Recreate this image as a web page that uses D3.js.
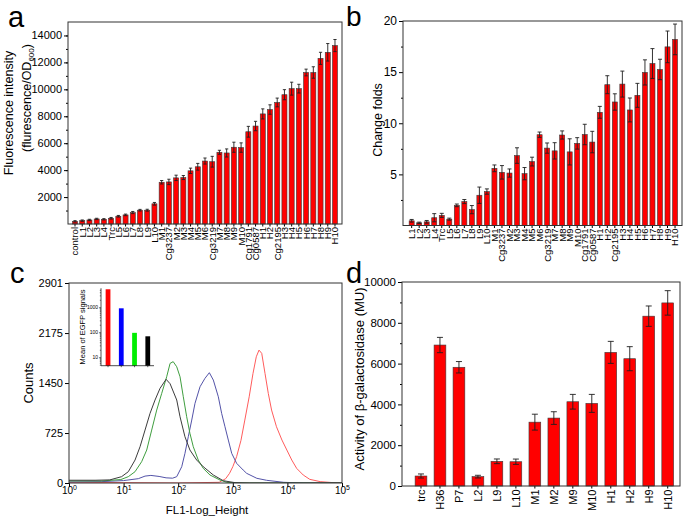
<!DOCTYPE html>
<html>
<head>
<meta charset="utf-8">
<script src="https://cdn.jsdelivr.net/npm/d3@7/dist/d3.min.js"></script>
<style>
  body { margin: 0; background: #fff; }
  svg { font-family: Arial, "Liberation Sans", sans-serif; }
</style>
</head>
<body>
<div id="chart"></div>
<script>
// ---- panel a : fluorescence intensity ----
const catsA = ["control", "L1", "L2", "L3", "L4", "Trc", "L5", "L6", "L7", "L8", "L9", "L10",
  "M1", "Cg3237", "M2", "M3", "M4", "M5", "M6", "Cg3219", "M7", "M8", "M9", "M10",
  "Cg1791", "Cg0587", "H1", "H2", "Cg2195", "H3", "H4", "H5", "H6", "H7", "H8", "H9", "H10"];
const valsA = [200, 250, 300, 375, 350, 425, 575, 675, 850, 1025, 1025, 1500,
  3100, 3125, 3425, 3450, 3950, 4250, 4675, 4625, 5325, 5275, 5700, 5675,
  6850, 7275, 8175, 8500, 9025, 9600, 10050, 10050, 11250, 11250, 12300, 12750, 13250];
const errsA = [50, 50, 50, 50, 50, 60, 60, 60, 80, 60, 70, 100,
  130, 200, 200, 150, 200, 250, 225, 400, 150, 300, 375, 350,
  400, 350, 375, 350, 325, 375, 480, 325, 250, 425, 450, 650, 450];

// ---- panel b : change folds ----
const catsB = catsA.slice(1);
const valsB = [0.46, 0.26, 0.36, 0.76, 0.99, 0.62, 1.97, 2.34, 1.55, 2.96, 3.32,
  5.59, 5.2, 5.13, 6.84, 5.07, 6.25, 8.88, 7.57, 7.3, 8.85, 7.2, 8.03,
  8.9, 8.16, 11.07, 13.77, 12.08, 13.83, 11.3, 12.73, 14.97, 15.84, 15.26, 17.47, 18.2];
const errsB = [0.13, 0.07, 0.13, 0.4, 0.2, 0.1, 0.13, 0.2, 0.4, 0.8, 0.26,
  0.33, 0.66, 0.4, 0.76, 0.6, 0.43, 0.26, 0.5, 0.8, 0.4, 1.28, 0.56,
  1.0, 1.05, 0.58, 0.88, 0.8, 1.27, 1.17, 1.17, 1.23, 1.46, 1.0, 1.55, 1.5];

// ---- panel c : flow cytometry histograms (FL1 value, counts) ----
const histBlack = [[1, 40], [3, 40], [5.6, 45], [9.2, 92], [12.2, 164], [16.2, 333], [20, 526],
  [24.7, 768], [30.5, 1010], [37.6, 1203], [46.5, 1373], [60, 1504], [71, 1440], [94, 1204],
  [108, 961], [133, 671], [164, 478], [218, 333], [288, 236], [440, 116], [670, 33],
  [1100, 5], [2000, 0], [100000, 0]];
const histGreen = [[1, 30], [4, 30], [8.9, 50], [12.2, 92], [16.2, 164], [21.4, 309], [26.5, 478],
  [32.7, 768], [40.4, 1058], [49.9, 1300], [61.5, 1541], [71, 1735], [81, 1760], [94, 1686],
  [108, 1541], [124, 1251], [143, 961], [164, 720], [189, 526], [233, 333], [288, 212],
  [382, 116], [583, 43], [773, 10], [1260, 0], [100000, 0]];
const histBlue = [[1, 15], [4, 20], [10, 35], [18.6, 63], [24.7, 100], [31.6, 110], [44.7, 95],
  [60, 75], [79, 70], [94, 92], [116, 236], [133, 430], [153, 671], [177, 913], [203, 1155],
  [251, 1396], [309, 1518], [372, 1600], [440, 1493], [543, 1251], [625, 1010], [719, 816],
  [828, 623], [955, 430], [1175, 286], [1549, 188], [1795, 140], [2754, 68], [4169, 39],
  [8511, 10], [19953, 0], [100000, 0]];
const histRed = [[1, 10], [10, 5], [100, 0], [562, 10], [741, 63], [871, 140], [1000, 236],
  [1175, 382], [1413, 620], [1660, 913], [1995, 1250], [2344, 1590], [2692, 1831], [3020, 1928],
  [3388, 1880], [3890, 1590], [4467, 1300], [5129, 1058], [6310, 816], [7943, 623], [9772, 478],
  [12023, 333], [14791, 212], [19498, 116], [25704, 53], [39811, 20], [69183, 5], [100000, 0]];
const countTicks = [0, 725, 1450, 2175, 2901];
const fl1Ticks = [1, 10, 100, 1000, 10000, 100000];

// inset: mean of EGFP signals
const insetCats = ["red", "blue", "green", "black"];
const insetVals = [5250, 910, 95, 69];
const insetTicks = [10, 100, 1000];

// ---- panel d : beta-galactosidase activity ----
const catsD = ["trc", "H36", "P7", "L2", "L9", "L10", "M1", "M2", "M9", "M10", "H1", "H2", "H9", "H10"];
const valsD = [490, 6910, 5820, 460, 1210, 1190, 3130, 3330, 4130, 4050, 6550, 6240, 8325, 8975];
const errsD = [100, 375, 280, 65, 115, 130, 390, 310, 360, 440, 540, 590, 500, 600];

const svg = d3.select("#chart").append("svg")
  .attr("width", 685)
  .attr("height", 519);

// generic bar chart with error bars, framed box
function barPanel(cfg) {
  const box = cfg.box;
  const g = svg.append("g");

  const x = d3.scaleBand()
    .domain(cfg.cats)
    .range(cfg.band)
    .paddingInner(cfg.pad)
    .paddingOuter(cfg.pad / 2);

  const y = d3.scaleLinear()
    .domain([0, cfg.ymax])
    .range([box.y1, box.y0]);

  // bars
  g.selectAll("rect.bar")
    .data(cfg.vals)
    .join("rect")
    .attr("class", "bar")
    .attr("x", (d, i) => x(cfg.cats[i]))
    .attr("width", x.bandwidth())
    .attr("y", d => y(d))
    .attr("height", d => y(0) - y(d))
    .attr("fill", "#ff0000")
    .attr("stroke", "#3a3a3a")
    .attr("stroke-width", 0.6);

  // error bars
  const eb = g.selectAll("g.err")
    .data(cfg.vals)
    .join("g")
    .attr("class", "err")
    .attr("stroke", "#1e1e1e")
    .attr("stroke-width", 0.9);
  const cx = i => x(cfg.cats[i]) + x.bandwidth() / 2;
  eb.append("line")
    .attr("x1", (d, i) => cx(i)).attr("x2", (d, i) => cx(i))
    .attr("y1", (d, i) => y(d - cfg.errs[i])).attr("y2", (d, i) => y(d + cfg.errs[i]));
  eb.append("line")
    .attr("x1", (d, i) => cx(i) - cfg.cap).attr("x2", (d, i) => cx(i) + cfg.cap)
    .attr("y1", (d, i) => y(d + cfg.errs[i])).attr("y2", (d, i) => y(d + cfg.errs[i]));
  eb.append("line")
    .attr("x1", (d, i) => cx(i) - cfg.cap).attr("x2", (d, i) => cx(i) + cfg.cap)
    .attr("y1", (d, i) => y(d - cfg.errs[i])).attr("y2", (d, i) => y(d - cfg.errs[i]));

  // minor y ticks
  g.append("g")
    .attr("transform", `translate(${box.x0},0)`)
    .call(d3.axisLeft(y).tickValues(cfg.minor).tickSize(2).tickFormat(""))
    .call(a => a.select(".domain").remove());

  // major y ticks
  g.append("g")
    .attr("transform", `translate(${box.x0},0)`)
    .call(d3.axisLeft(y).tickValues(cfg.major).tickSize(4).tickPadding(2).tickFormat(d3.format("d")))
    .call(a => a.select(".domain").remove())
    .call(a => a.selectAll("text").style("font-size", cfg.tickFs + "px").attr("fill", "#000"));

  // category axis
  g.append("g")
    .attr("transform", `translate(0,${box.y1})`)
    .call(d3.axisBottom(x).tickSize(2.5))
    .call(a => a.select(".domain").remove())
    .call(a => a.selectAll("text")
      .attr("x", -cfg.labGap)
      .attr("y", 0)
      .attr("dy", "0.36em")
      .attr("transform", "rotate(-90)")
      .style("text-anchor", "end")
      .style("font-size", cfg.labFs + "px")
      .attr("fill", "#000"));

  // frame
  g.append("rect")
    .attr("x", box.x0).attr("y", box.y0)
    .attr("width", box.x1 - box.x0).attr("height", box.y1 - box.y0)
    .attr("fill", "none")
    .attr("stroke", "#333")
    .attr("stroke-width", 1);

  return g;
}

function yTitle(cx, cy, text, fs) {
  return svg.append("text")
    .attr("transform", `translate(${cx},${cy}) rotate(-90)`)
    .attr("text-anchor", "middle")
    .attr("dy", "0.35em")
    .style("font-size", fs + "px")
    .text(text);
}

function panelLetter(x, y, t, fs) {
  svg.append("text")
    .attr("x", x).attr("y", y)
    .style("font-size", fs + "px")
    .text(t);
}

// ---------------- panel a ----------------
barPanel({
  cats: catsA, vals: valsA, errs: errsA,
  box: {x0: 68, x1: 342, y0: 22, y1: 224},
  band: [71.4, 338.6], pad: 0.3, ymax: 15000,
  major: d3.range(2000, 14001, 2000),
  minor: d3.range(1000, 15000, 1000),
  tickFs: 11, labFs: 9.5, labGap: 3, cap: 1.6
});
yTitle(9, 113, "Fluorescence intensity", 12.5);
const t2 = svg.append("text")
  .attr("transform", "translate(27,98) rotate(-90)")
  .attr("text-anchor", "middle")
  .attr("dy", "0.35em")
  .style("font-size", "12.5px");
t2.append("tspan").text("(flurescence/OD");
t2.append("tspan").attr("dy", "3").style("font-size", "8px").text("600");
t2.append("tspan").attr("dy", "-3").text(")");
panelLetter(8, 27, "a", 29);

// ---------------- panel b ----------------
barPanel({
  cats: catsB, vals: valsB, errs: errsB,
  box: {x0: 403, x1: 682, y0: 21, y1: 225.5},
  band: [407.9, 678.8], pad: 0.33, ymax: 20,
  major: [5, 10, 15, 20],
  minor: [2.5, 7.5, 12.5, 17.5],
  tickFs: 12, labFs: 9.5, labGap: 3, cap: 2
});
yTitle(378, 120, "Change folds", 12.5);
panelLetter(346, 26, "b", 28);

// ---------------- panel c ----------------
{
  const box = {x0: 69, x1: 342, y0: 283, y1: 483};
  const g = svg.append("g");
  const x = d3.scaleLog().domain([1, 100000]).range([box.x0, box.x1]);
  const y = d3.scaleLinear().domain([0, 2901]).range([box.y1, box.y0]);

  g.append("clipPath").attr("id", "clipc")
    .append("rect")
    .attr("x", box.x0).attr("y", box.y0)
    .attr("width", box.x1 - box.x0).attr("height", box.y1 - box.y0);

  const line = d3.line()
    .x(d => x(d[0]))
    .y(d => y(d[1]));

  const curves = [
    {data: histRed, color: "#ff5c5c"},
    {data: histBlue, color: "#5353a8"},
    {data: histGreen, color: "#3f9e3f"},
    {data: histBlack, color: "#3c3c3c"}
  ];
  g.append("g").attr("clip-path", "url(#clipc)")
    .selectAll("path")
    .data(curves)
    .join("path")
    .attr("d", d => line(d.data))
    .attr("fill", "none")
    .attr("stroke", d => d.color)
    .attr("stroke-width", 1);

  // y axis
  g.append("g")
    .attr("transform", `translate(${box.x0},0)`)
    .call(d3.axisLeft(y).tickValues(countTicks).tickSize(4).tickPadding(2).tickFormat(d3.format("d")))
    .call(a => a.select(".domain").remove())
    .call(a => a.selectAll("text").style("font-size", "11px").attr("fill", "#000"));

  // x axis with powers of ten
  const xa = g.append("g")
    .attr("transform", `translate(0,${box.y1})`)
    .call(d3.axisBottom(x).tickValues(fl1Ticks).tickSize(4).tickFormat(""))
    .call(a => a.select(".domain").remove());
  xa.selectAll(".tick").append("text")
    .attr("y", 11)
    .attr("fill", "#000")
    .attr("text-anchor", "middle")
    .style("font-size", "10px")
    .each(function (d) {
      const t = d3.select(this);
      t.append("tspan").text("10");
      t.append("tspan").attr("dy", "-4").style("font-size", "7px").text(Math.round(Math.log10(d)));
    });

  g.append("rect")
    .attr("x", box.x0).attr("y", box.y0)
    .attr("width", box.x1 - box.x0).attr("height", box.y1 - box.y0)
    .attr("fill", "none").attr("stroke", "#333");

  svg.append("text")
    .attr("x", 207).attr("y", 514)
    .attr("text-anchor", "middle")
    .style("font-size", "11.5px")
    .text("FL1-Log_Height");
  yTitle(28, 383, "Counts", 13);

  // inset bar chart
  const ib = {x0: 101, x1: 154, y0: 288.3, y1: 365.7};
  const ix = d3.scaleBand().domain(insetCats).range([101.4, 154.4]).paddingInner(0.64).paddingOuter(0.32);
  const iy = d3.scaleLog().domain([4.6, 5750]).range([ib.y1, ib.y0]);
  const insetColor = {red: "#ff0000", blue: "#0000ff", green: "#00ee00", black: "#000000"};

  g.selectAll("rect.ibar")
    .data(insetVals)
    .join("rect")
    .attr("class", "ibar")
    .attr("x", (d, i) => ix(insetCats[i]))
    .attr("width", ix.bandwidth())
    .attr("y", d => iy(d))
    .attr("height", d => iy(4.6) - iy(d))
    .attr("fill", (d, i) => insetColor[insetCats[i]]);

  const minorInset = [];
  [1, 10, 100, 1000].forEach(p => d3.range(1, 10).forEach(m => {
    const v = p * m;
    if (v >= 5 && v <= 5750 && !insetTicks.includes(v)) minorInset.push(v);
  }));
  g.append("g")
    .attr("transform", `translate(${ib.x0},0)`)
    .call(d3.axisLeft(iy).tickValues(minorInset).tickSize(1.2).tickFormat(""))
    .call(a => a.selectAll("line").attr("stroke-width", 0.5))
    .call(a => a.select(".domain").remove());
  g.append("g")
    .attr("transform", `translate(${ib.x0},0)`)
    .call(d3.axisLeft(iy).tickValues(insetTicks).tickSize(2).tickPadding(1).tickFormat(d3.format("d")))
    .call(a => a.select(".domain").attr("d", `M0,${ib.y0}V${ib.y1}`).attr("stroke-width", 0.7))
    .call(a => a.selectAll("line").attr("stroke-width", 0.6))
    .call(a => a.selectAll("text").style("font-size", "5px").attr("fill", "#000"));
  g.append("g")
    .attr("transform", `translate(0,${ib.y1})`)
    .call(d3.axisBottom(ix).tickSize(1.5).tickFormat(""))
    .call(a => a.select(".domain").attr("d", `M${ib.x0},0H${ib.x1}`).attr("stroke-width", 0.7))
    .call(a => a.selectAll("line").attr("stroke-width", 0.6));
  yTitle(82, 327, "Mean of EGFP signals", 7.5);

  panelLetter(10, 283, "c", 29);
}

// ---------------- panel d ----------------
barPanel({
  cats: catsD, vals: valsD, errs: errsD,
  box: {x0: 402, x1: 680, y0: 282, y1: 486},
  band: [411.5, 677.2], pad: 0.38, ymax: 10000,
  major: d3.range(0, 10001, 2000),
  minor: d3.range(1000, 10000, 2000),
  tickFs: 11.5, labFs: 11, labGap: 3.5, cap: 3
});
yTitle(359, 379, "Activity of \u03b2-galactosidase (MU)", 13);
panelLetter(346, 283, "d", 29);
</script>
</body>
</html>
